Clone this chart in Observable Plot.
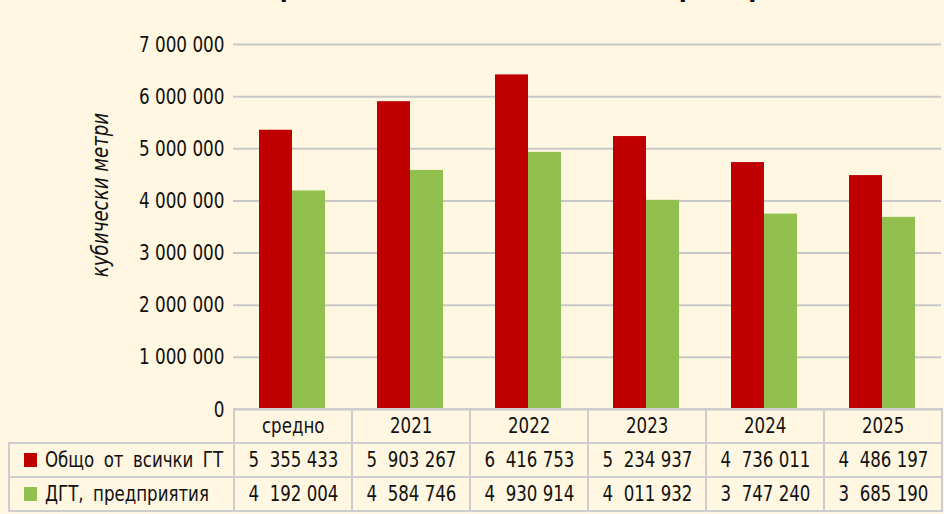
<!DOCTYPE html>
<html>
<head>
<meta charset="utf-8">
<script src="https://cdn.jsdelivr.net/npm/d3@7"></script>
<script src="https://cdn.jsdelivr.net/npm/@observablehq/plot@0.6"></script>
<style>
  html, body { margin: 0; padding: 0; background: #FFF7E1; }
  #wrap { position: relative; width: 944px; height: 514px; overflow: hidden; background: #FFF7E1;
          font-family: "DejaVu Sans Condensed", "Roboto", sans-serif; color: #111; }
  #title { position: absolute; left: 262px; top: -28.5px; font-size: 26px; font-weight: bold; white-space: nowrap; letter-spacing: 0.5px; }
  #ylabel { position: absolute; left: 100px; top: 195px; transform: translate(-50%, -50%) rotate(-90deg) scaleX(0.88);
            font-size: 23px; font-style: italic; white-space: nowrap; }
  #chart { position: absolute; left: 0; top: 0; }
  #tbl { position: absolute; left: 8px; top: 408px; width: 933px; border-collapse: collapse; table-layout: fixed; font-size: 22px; }
  #tbl td { border: 2px solid #cdcdcd; padding: 0; text-align: center; white-space: pre; overflow: hidden; line-height: 1; }
  #tbl tr.h td { height: 32px; }
  #tbl tr.r td { height: 32px; }
  #tbl td.blank { border-top: none; border-left: none; }
  #tbl td.lab { text-align: left; padding-left: 14px; }
  .sq { display: inline-block; transform: scaleX(0.84); }
  #tbl td:not(.lab) .sq { transform-origin: center; }
  #tbl td.lab .sq { transform-origin: left center; word-spacing: 5px; }
  .sw { display: inline-block; width: 13px; height: 14px; margin-right: 8px; vertical-align: 0px; }
</style>
</head>
<body>
<div id="wrap">
  <div id="title">Средни количества вода по предприятия</div>
  <div id="chart"></div>
  <div id="ylabel">кубически метри</div>
  <table id="tbl"></table>
</div>
<script>
const categories = ["средно", "2021", "2022", "2023", "2024", "2025"];
const seriesNames = ["Общо от всички ГТ", "ДГТ, предприятия"];
const totalValues = [5355433, 5903267, 6416753, 5234937, 4736011, 4486197];
const dgtValues = [4192004, 4584746, 4930914, 4011932, 3747240, 3685190];
const yTicks = [0, 1000000, 2000000, 3000000, 4000000, 5000000, 6000000, 7000000];
const seriesColors = ["#C00000", "#92C04E"];

const seriesValues = [totalValues, dgtValues];
const data = [];
categories.forEach((c, i) => {
  seriesNames.forEach((s, j) => data.push({cat: c, series: s, value: seriesValues[j][i]}));
});

const tickFmt = d => d3.format(",")(d).replace(/,/g, " ");
const cellFmt = d => {
  const parts = d3.format(",")(d).split(",");
  return parts[0] + "  " + parts.slice(1).join(" ");
};

const chart = Plot.plot({
  width: 944,
  height: 514,
  marginTop: 44,
  marginBottom: 105,
  marginLeft: 233,
  marginRight: 3,
  style: {background: "transparent", fontFamily: "'DejaVu Sans Condensed', sans-serif", fontSize: "22px", color: "#111", overflow: "visible"},
  fx: {domain: categories, padding: 0, axis: null},
  x: {domain: seriesNames, paddingInner: 0, paddingOuter: 0.76, axis: null},
  y: {domain: [0, 7000000]},
  color: {domain: seriesNames, range: seriesColors},
  marks: [
    Plot.gridY(yTicks, {stroke: "#c8c8c8", strokeOpacity: 1, strokeWidth: 2}),
    Plot.barY(data, {fx: "cat", x: "series", y: "value", fill: "series"}),
    Plot.axisY(yTicks, {tickSize: 0, tickPadding: 9, label: null, tickFormat: tickFmt, fontSize: 22})
  ]
});
document.getElementById("chart").appendChild(chart);
// condense the tick labels horizontally (narrow typeface look)
chart.querySelectorAll('[aria-label="y-axis tick label"] text').forEach(t => {
  const w = t.getComputedTextLength();
  t.setAttribute("textLength", (w * 0.85).toFixed(1));
  t.setAttribute("lengthAdjust", "spacingAndGlyphs");
});

// data table below the chart
const mk = (txt) => { const s = document.createElement("span"); s.className = "sq"; s.textContent = txt; return s; };
const tbl = document.getElementById("tbl");
const cg = document.createElement("colgroup");
const c0 = document.createElement("col"); c0.style.width = "225px"; cg.appendChild(c0);
categories.forEach(() => { const c = document.createElement("col"); c.style.width = "118px"; cg.appendChild(c); });
tbl.appendChild(cg);
const hr = document.createElement("tr"); hr.className = "h";
const b = document.createElement("td"); b.className = "blank"; hr.appendChild(b);
categories.forEach(c => { const td = document.createElement("td"); td.appendChild(mk(c)); hr.appendChild(td); });
tbl.appendChild(hr);
seriesNames.forEach((s, j) => {
  const tr = document.createElement("tr"); tr.className = "r";
  const lab = document.createElement("td"); lab.className = "lab";
  const sw = document.createElement("span"); sw.className = "sw"; sw.style.background = seriesColors[j];
  lab.appendChild(sw); lab.appendChild(mk(s));
  tr.appendChild(lab);
  seriesValues[j].forEach(v => { const td = document.createElement("td"); td.appendChild(mk(cellFmt(v))); tr.appendChild(td); });
  tbl.appendChild(tr);
});
</script>
</body>
</html>
